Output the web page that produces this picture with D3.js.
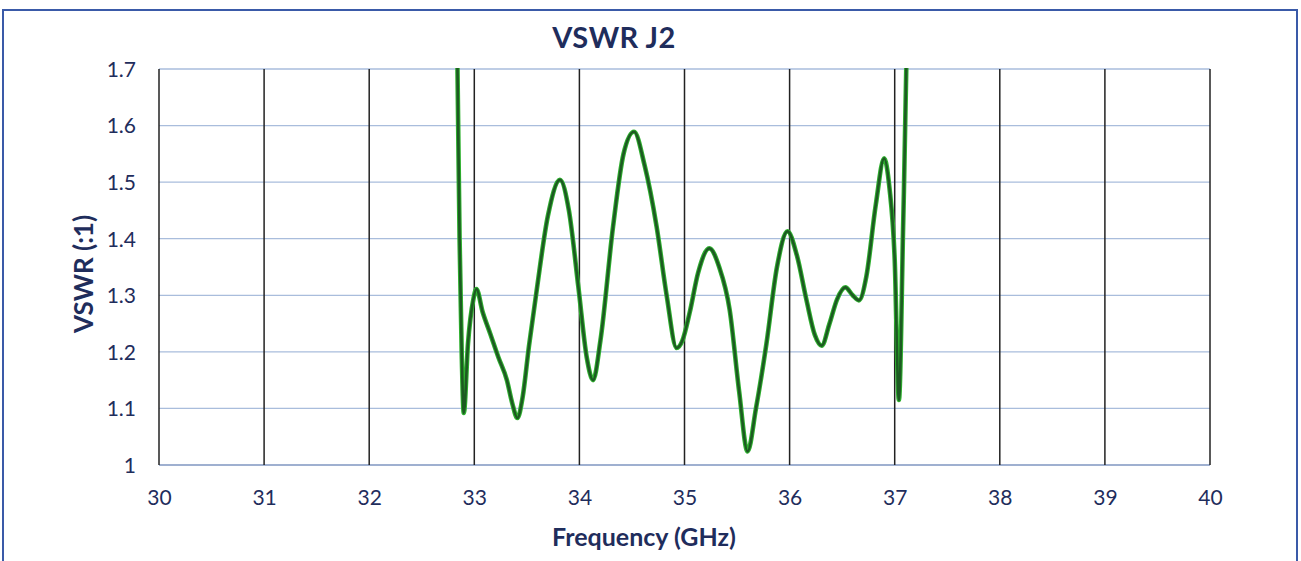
<!DOCTYPE html>
<html><head><meta charset="utf-8">
<script src="https://cdn.jsdelivr.net/npm/d3@7"></script>
<style>
html,body{margin:0;padding:0;background:#fff;}
text{font-family:"Lato","Open Sans",sans-serif;}
</style></head>
<body><svg id="c" width="1301" height="561"></svg>
<script>
const title = "VSWR J2";
const xLabel = "Frequency (GHz)";
const yLabel = "VSWR (:1)";
const xTicks = [30,31,32,33,34,35,36,37,38,39,40];
const yTicks = [1,1.1,1.2,1.3,1.4,1.5,1.6,1.7];
const freq = [32.80,32.84,32.86,32.88,32.90,32.94,32.99,33.02,33.08,33.15,33.23,33.31,33.36,33.41,33.46,33.52,33.59,33.70,33.815,33.90,33.99,34.07,34.13,34.20,34.32,34.42,34.52,34.62,34.735,34.83,34.925,34.98,35.05,35.13,35.236,35.33,35.43,35.52,35.60,35.68,35.78,35.88,35.98,36.07,36.16,36.24,36.305,36.38,36.45,36.53,36.60,36.66,36.73,36.82,36.90,36.95,37.00,37.04,37.08,37.11,37.13];
const vswr = [2.2,1.70,1.40,1.20,1.092,1.215,1.292,1.311,1.27,1.233,1.19,1.15,1.11,1.083,1.12,1.21,1.304,1.44,1.504,1.45,1.315,1.19,1.15,1.22,1.421,1.55,1.589,1.53,1.421,1.30,1.207,1.22,1.27,1.34,1.383,1.35,1.274,1.13,1.024,1.10,1.215,1.35,1.413,1.37,1.292,1.23,1.211,1.25,1.292,1.314,1.30,1.291,1.333,1.46,1.542,1.49,1.363,1.115,1.42,1.70,2.0];

const svg = d3.select("#c");
const m = {l:159, r:1210, t:69, b:465};
const x = d3.scaleLinear().domain([30,40]).range([m.l,m.r]);
const y = d3.scaleLinear().domain([1,1.7]).range([m.b,m.t]);
const navy = "#1f2d5c";

// frame
svg.append("rect").attr("x",3).attr("y",10).attr("width",1294).attr("height",560)
  .attr("fill","none").attr("stroke","#3a5aa8").attr("stroke-width",2);

// horizontal grid
svg.append("g").selectAll("line").data(yTicks).join("line")
  .attr("x1",m.l).attr("x2",m.r).attr("y1",d=>y(d)).attr("y2",d=>y(d))
  .attr("stroke",d=>d===1?"#7f96c0":"#a9bddc").attr("stroke-width",1.3);
// vertical grid
svg.append("g").selectAll("line").data(xTicks).join("line")
  .attr("x1",d=>x(d)).attr("x2",d=>x(d)).attr("y1",m.t).attr("y2",m.b)
  .attr("stroke","#222").attr("stroke-width",1.5);

// axes (labels only)
const ya = svg.append("g").attr("transform",`translate(136,0)`)
  .call(d3.axisLeft(y).tickValues(yTicks).tickSize(0).tickPadding(0).tickFormat(d=>d===1?"1":d3.format(".1f")(d)));
ya.select(".domain").remove();
ya.selectAll("text").attr("font-size",21).attr("fill",navy).attr("x",0).attr("dy","0.35em");
const xa = svg.append("g").attr("transform",`translate(0,498)`)
  .call(d3.axisBottom(x).tickValues(xTicks).tickSize(0).tickPadding(0).tickFormat(d3.format("d")));
xa.select(".domain").remove();
xa.selectAll("text").attr("font-size",21).attr("fill",navy).attr("y",0).attr("dy","0.35em");

// clip
svg.append("clipPath").attr("id","clip").append("rect")
  .attr("x",m.l).attr("y",m.t-1).attr("width",m.r-m.l).attr("height",m.b-m.t+1);
const data = freq.map((f,i)=>[f,vswr[i]]);
const line = d3.line().x(d=>x(d[0])).y(d=>y(d[1])).curve(d3.curveMonotoneX);
const g = svg.append("g").attr("clip-path","url(#clip)");
g.append("path").attr("d",line(data)).attr("fill","none").attr("stroke","#2fb02f").attr("stroke-width",4.6).attr("stroke-linejoin","round");
g.append("path").attr("d",line(data)).attr("fill","none").attr("stroke","#1d5a22").attr("stroke-width",2.6).attr("stroke-linejoin","round");

// titles
svg.append("text").attr("x",614).attr("y",38).attr("dy","0.35em").attr("text-anchor","middle")
  .attr("font-size",29).attr("font-weight","bold").attr("letter-spacing",0.5).attr("fill",navy).text(title);
svg.append("text").attr("x",644).attr("y",537).attr("dy","0.35em").attr("text-anchor","middle")
  .attr("font-size",25).attr("font-weight","bold").attr("fill",navy).text(xLabel);
svg.append("text").attr("transform","translate(84,274) rotate(-90)").attr("dy","0.35em").attr("text-anchor","middle")
  .attr("font-size",26).attr("font-weight","bold").attr("fill",navy).text(yLabel);
</script></body></html>
